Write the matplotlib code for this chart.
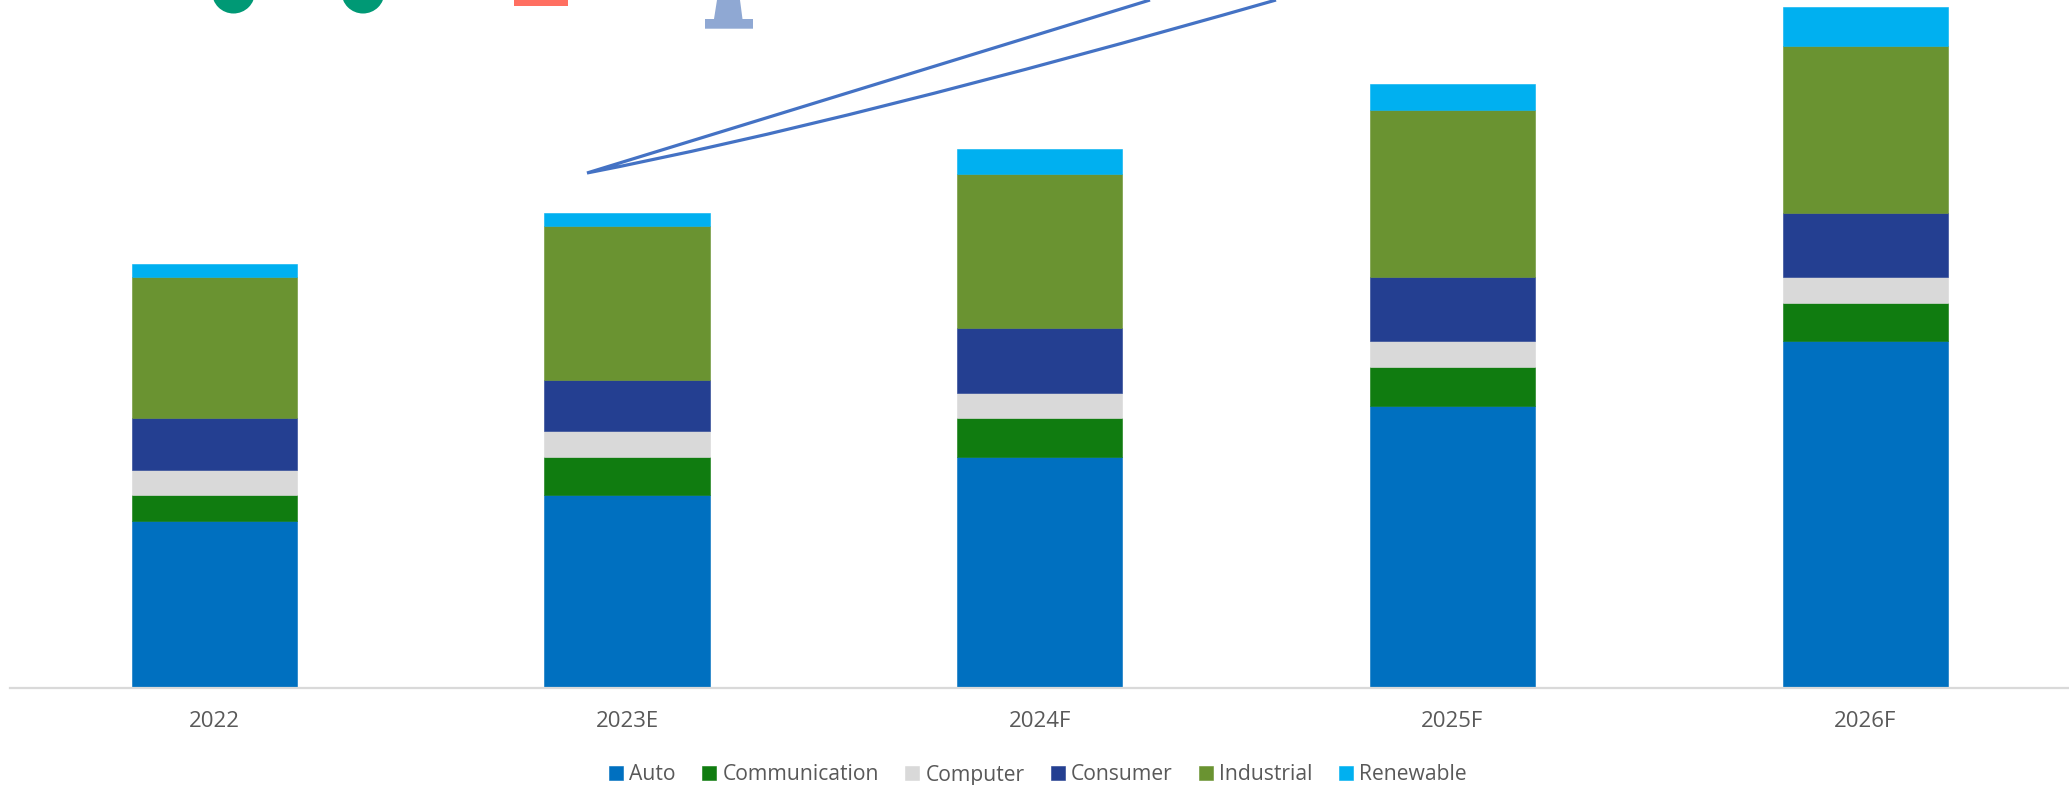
import numpy as np
import matplotlib.pyplot as plt
from matplotlib.patches import Circle, PathPatch, Polygon, Rectangle
from matplotlib.path import Path

plt.rcParams['font.family'] = ['Open Sans', 'DejaVu Sans']

years = ['2022', '2023E', '2024F', '2025F', '2026F']
auto = [13, 15, 18, 22, 27]
communication = [2, 3, 3, 3, 3]
computer = [2, 2, 2, 2, 2]
consumer = [4, 4, 5, 5, 5]
industrial = [11, 12, 12, 13, 13]
renewable = [1, 1, 2, 2, 3]

names = ['Auto', 'Communication', 'Computer', 'Consumer', 'Industrial', 'Renewable']
series = [auto, communication, computer, consumer, industrial, renewable]
colors = ['#0070C0', '#107C10', '#D9D9D9', '#243F91', '#6A9331', '#00B0F0']

W, H = 2069, 785
base = 688.2
fig = plt.figure(figsize=(W / 100, H / 100), dpi=100)
ax = fig.add_axes([8 / W, (H - base) / H, 2063.4 / W, base / H])

x = np.arange(len(years))
bottom = np.zeros(len(years))
for name, vals, col in zip(names, series, colors):
    ax.bar(x, vals, width=0.4, bottom=bottom, color=col, edgecolor=col,
           linewidth=0.4, label=name)
    bottom += np.array(vals)

ax.set_xlim(-0.5, 4.5)
ax.set_ylim(0, base / 12.85)
ax.set_yticks([])
ax.set_xticks(x, years)
ax.tick_params(axis='x', length=0, pad=16.5, labelsize=16, labelcolor='#595959')
for side in ['top', 'left', 'right']:
    ax.spines[side].set_visible(False)
ax.spines['bottom'].set_color('#D9D9D9')
ax.spines['bottom'].set_linewidth(1.6)
ax.spines['bottom'].set_bounds(-0.495, 4.5)

ax.legend(loc='center', bbox_to_anchor=(1038 / W, (H - 775) / H),
          bbox_transform=fig.transFigure, ncol=6, frameon=False, fontsize=15.2,
          labelcolor='#595959', handlelength=0.65, handleheight=0.65,
          handletextpad=0.3, columnspacing=1.25, borderpad=0, borderaxespad=0)

# shapes along the top edge, drawn in pixel coordinates
deco = fig.add_axes([0, 0, 1, 1], facecolor='none')
deco.set_xlim(0, W)
deco.set_ylim(H, 0)
deco.axis('off')

for cx in [233.5, 363]:
    deco.add_patch(Circle((cx, -8), 21.5, color='#009975', lw=0))
deco.add_patch(Rectangle((514, 0), 54, 5.7, color='#FF6F61', lw=0))

tower = [(717, 0), (740, 0), (742.5, 19), (753, 19), (753, 28.7),
         (705, 28.7), (705, 19), (714, 19)]
deco.add_patch(Polygon(tower, closed=True, color='#8FA8D3', lw=0))

# thin callout wedge rising to the top right
callout = Path([(1150, 0), (587, 173), (850, 122), (1276, 0)],
               [Path.MOVETO, Path.LINETO, Path.CURVE3, Path.CURVE3])
deco.add_patch(PathPatch(callout, fill=False, edgecolor='#4472C4', lw=2.3))

fig.savefig('out.png', dpi=100)
